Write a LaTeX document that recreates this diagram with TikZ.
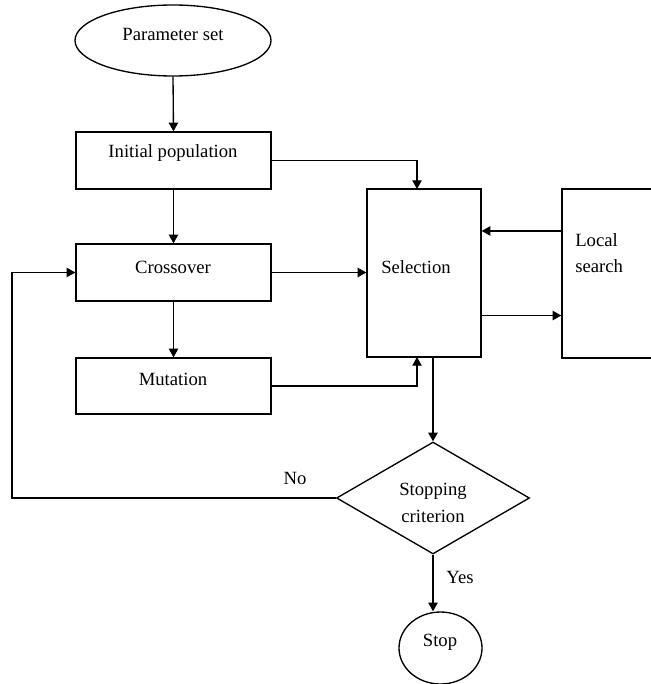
\documentclass[tikz,border=0pt]{standalone}
\usepackage{fontspec}
\setmainfont{Liberation Serif}
\usetikzlibrary{arrows.meta,shapes.geometric,calc}
\begin{document}
\begin{tikzpicture}[x=0.75pt,y=-0.75pt,
  every node/.style={font=\fontsize{14}{20}\selectfont},
  shapebox/.style={draw, rectangle, inner sep=0pt, line width=1pt},
  conn/.style={line width=1pt, -{Triangle[length=6.5pt,width=7pt]}},
  txt/.style={inner sep=0pt}]
\useasboundingbox (0,0) rectangle (650,684);
% shapes
\node[shapebox, ellipse, minimum width=147pt, minimum height=53.25pt] (param) at (173,40.5) {};
\node[shapebox, minimum width=146.25pt, minimum height=42.75pt] (init) at (173.5,160.5) {};
\node[shapebox, minimum width=146.25pt, minimum height=42.75pt] (cross) at (173.5,272.5) {};
\node[shapebox, minimum width=146.25pt, minimum height=42pt] (mut) at (173.5,386) {};
\node[shapebox, minimum width=85.5pt, minimum height=126pt] (sel) at (424,273) {};
\node[shapebox, minimum width=88.5pt, minimum height=126.75pt] (local) at (621,273.5) {};
\node[shapebox, diamond, minimum width=144.75pt, minimum height=84pt] (dia) at (433,498) {};
\node[shapebox, ellipse, minimum width=62.25pt, minimum height=54pt] (stop) at (440.5,648) {};
% texts
\node[txt] (tparam) at (173,34) {Parameter set};
\node[txt] (tinit) at (173,153) {Initial population};
\node[txt] (tcross) at (173,267) {Crossover};
\node[txt] (tmut) at (173,379) {Mutation};
\node[txt] (tsel) at (416,267) {Selection};
\node[txt, anchor=west, align=left] (tlocal) at (575,253) {Local\\search};
\node[txt, align=center] (tdia) at (433,503) {Stopping\\criterion};
\node[txt] (tstop) at (440,642) {Stop};
\node[txt] (tyes) at (460,577) {Yes};
\node[txt] (tno) at (295,478) {No};
% connectors
\coordinate (selinA) at (417,189);
\coordinate (selinB) at (417,357);
\coordinate (fb) at (12,498);
\draw[conn] (param.south) -- (init.north);
\draw[conn] (init.south) -- (cross.north);
\draw[conn] (cross.south) -- (mut.north);
\draw[conn] (init.east) -| (selinA);
\draw[conn] (cross.east) -- (cross.east -| sel.west);
\draw[conn] (mut.east) -| (selinB);
\draw[conn] ([yshift=31.9pt]local.west) -- ([yshift=31.9pt]local.west -| sel.east);
\draw[conn] ([yshift=-31.9pt]sel.east) -- ([yshift=-31.9pt]sel.east -| local.west);
\draw[conn] (sel.south -| dia.north) -- (dia.north);
\draw[conn] (dia.west) -- (fb) |- (cross.west);
\draw[conn] (dia.south) -- (dia.south |- stop.north);
\end{tikzpicture}
\end{document}
